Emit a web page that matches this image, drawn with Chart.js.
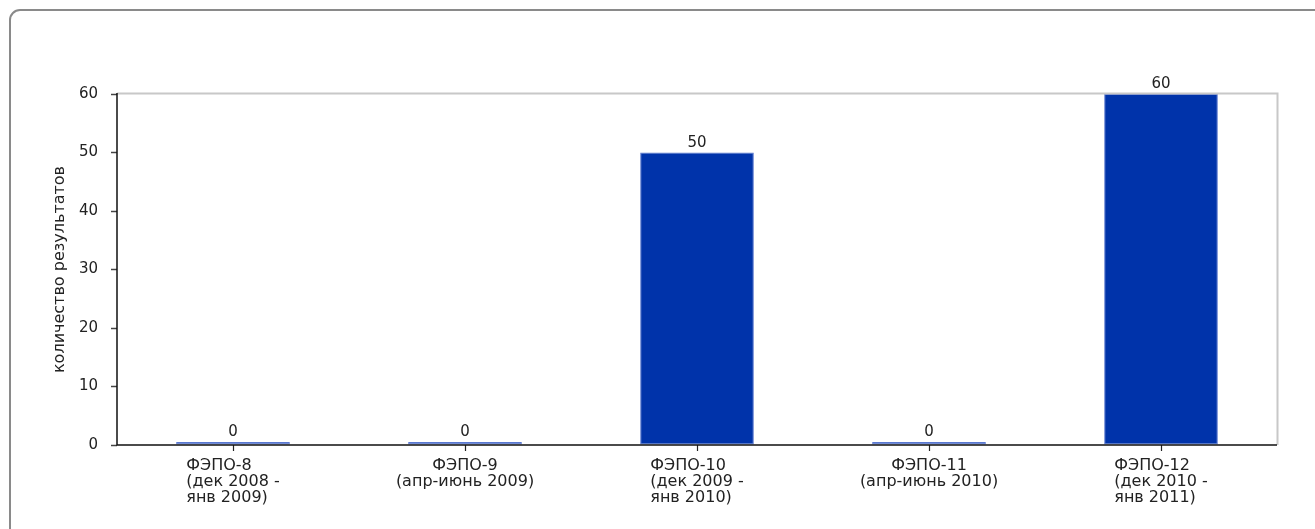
<!DOCTYPE html>
<html>
<head>
<meta charset="utf-8">
<script src="https://cdn.jsdelivr.net/npm/chart.js@4"></script>
<style>
html,body{margin:0;padding:0;background:#fff;overflow:hidden;width:1315px;height:529px;}
#frame{position:absolute;left:9px;top:9px;width:1400px;height:600px;border:2px solid #8a8a8a;border-radius:11px;box-sizing:border-box;}
#wrap{position:absolute;left:0;top:0;width:1315px;height:529px;}
</style>
</head>
<body>
<div id="frame"></div>
<div id="wrap"><canvas id="c"></canvas></div>
<script>
const categories = [
  ["ФЭПО-8", "(дек 2008 -", "янв 2009)"],
  ["ФЭПО-9", "(апр-июнь 2009)"],
  ["ФЭПО-10", "(дек 2009 -", "янв 2010)"],
  ["ФЭПО-11", "(апр-июнь 2010)"],
  ["ФЭПО-12", "(дек 2010 -", "янв 2011)"]
];
const results = [0, 0, 50, 0, 60];
const yTicks = [0, 10, 20, 30, 40, 50, 60];
const yTitle = "количество результатов";

const FONT = "'DejaVu Sans', sans-serif";
const TXT = '#222222';

const decor = {
  id: 'decor',
  afterDraw(chart) {
    const ctx = chart.ctx;
    const a = chart.chartArea;
    const x = chart.scales.x;
    ctx.save();
    ctx.strokeStyle = '#c8c8c8';
    ctx.lineWidth = 2;
    ctx.beginPath();
    ctx.moveTo(a.left, a.top - 0.5);
    ctx.lineTo(a.right + 0.5, a.top - 0.5);
    ctx.lineTo(a.right + 0.5, a.bottom);
    ctx.stroke();
    ctx.strokeStyle = '#111';
    ctx.lineWidth = 1.5;
    ctx.beginPath();
    ctx.moveTo(a.left, a.top - 1);
    ctx.lineTo(a.left, a.bottom);
    ctx.lineTo(a.right, a.bottom);
    ctx.stroke();
    ctx.fillStyle = TXT;
    ctx.font = "16px " + FONT;
    ctx.textBaseline = 'middle';
    categories.forEach((lines, i) => {
      const cx = x.getPixelForTick(i);
      const widths = lines.map(l => ctx.measureText(l).width);
      const maxW = Math.max(...widths);
      lines.forEach((l, j) => {
        const y = a.bottom + 21 + j * 16;
        if (lines.length > 2) {
          ctx.textAlign = 'left';
          ctx.fillText(l, cx - maxW / 2, y);
        } else {
          ctx.textAlign = 'center';
          ctx.fillText(l, cx, y);
        }
      });
    });
    const meta = chart.getDatasetMeta(0);
    ctx.font = "15px " + FONT;
    ctx.textAlign = 'center';
    ctx.textBaseline = 'alphabetic';
    meta.data.forEach((bar, i) => {
      ctx.fillText(String(results[i]), bar.x, bar.y - 6);
    });
    ctx.restore();
  }
};

new Chart(document.getElementById('c'), {
  type: 'bar',
  data: {
    labels: categories,
    datasets: [{
      data: results,
      backgroundColor: ctx => ctx.raw === 0 ? '#3b5ec6' : '#0033aa',
      borderColor: '#5a78d0',
      borderWidth: 1,
      borderSkipped: false,
      minBarLength: 3,
      categoryPercentage: 1,
      barPercentage: 0.49
    }]
  },
  options: {
    responsive: true,
    maintainAspectRatio: false,
    animation: false,
    layout: { padding: { left: 47, top: 94, right: 38, bottom: 0 } },
    plugins: { legend: { display: false }, tooltip: { enabled: false } },
    scales: {
      x: {
        offset: true,
        grid: { offset: false, drawOnChartArea: false, drawTicks: true, tickLength: 6, color: '#222', tickWidth: 1.2 },
        border: { display: false },
        ticks: { callback: () => '', font: { size: 14, family: FONT } },
        afterFit: s => { s.height = 84; }
      },
      y: {
        min: 0, max: 60,
        afterBuildTicks: s => { s.ticks = yTicks.map(v => ({ value: v })); },
        grid: { drawOnChartArea: false, tickLength: 6, color: '#444', tickWidth: 1.5 },
        border: { display: false },
        ticks: { color: TXT, padding: 13, font: { size: 15, family: FONT } },
        title: { display: true, text: yTitle, color: TXT, padding: { top: 3, bottom: 0 }, font: { size: 16, family: FONT } },
        afterFit: s => { s.width = 70; }
      }
    }
  },
  plugins: [decor]
});
</script>
</body>
</html>
